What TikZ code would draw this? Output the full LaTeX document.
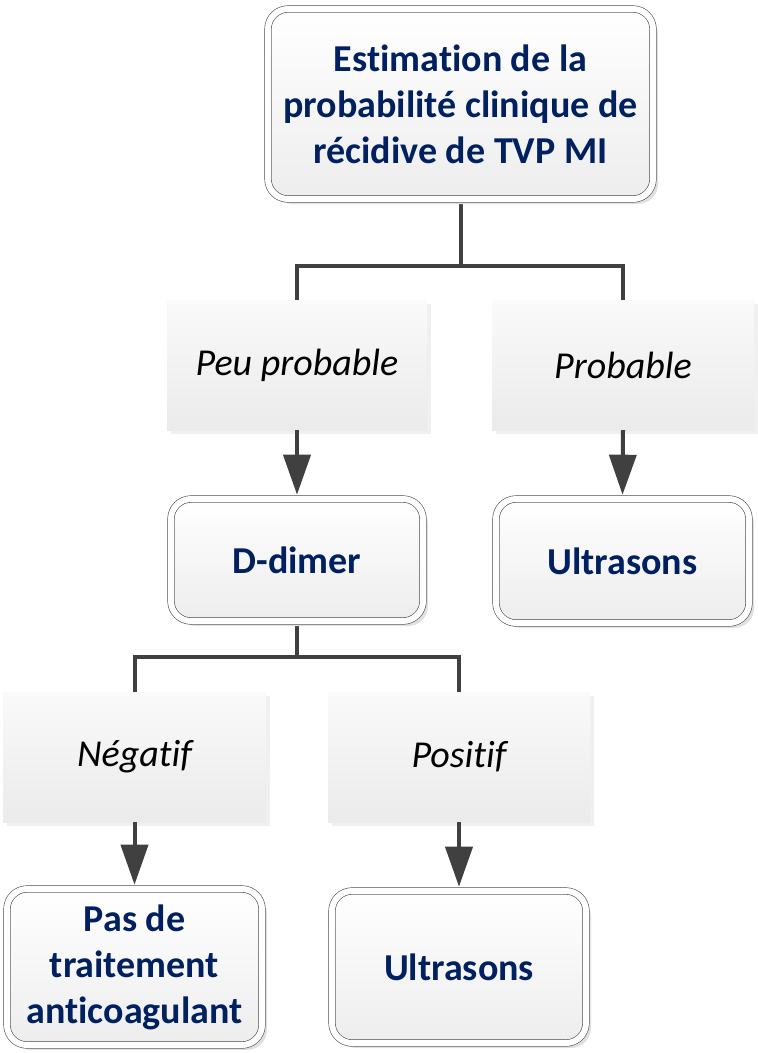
\documentclass[tikz,border=0pt]{standalone}
\usepackage{fontspec}
\setmainfont{Carlito}[Ligatures=NoCommon, RawFeature={-clig}]
\usetikzlibrary{arrows.meta,shadows,backgrounds}
\definecolor{navytext}{RGB}{0,32,96}
\definecolor{conncol}{RGB}{64,64,64}
\tikzset{
  boxnode/.style={rounded corners=20pt, draw=black!70, line width=0.6pt,
    double=white, double distance=6pt, top color=white, bottom color=black!7,
    text=navytext, font=\fontsize{38}{46}\selectfont\bfseries, align=center,
    inner sep=0pt,
    general shadow={fill=black!12, shadow xshift=5pt, shadow yshift=-5pt}},
  labnode/.style={top color=black!2, bottom color=black!8, draw=none,
    text=black, font=\fontsize{38}{46}\selectfont\itshape, align=center,
    inner sep=0pt,
    general shadow={fill=black!6, shadow xshift=4pt, shadow yshift=-4pt}},
  conn/.style={draw=conncol, line width=4pt},
  arrowconn/.style={draw=conncol, line width=4pt, shorten >=4pt,
    -{Triangle[width=27pt,length=40pt]}},
}
\begin{document}
\begin{tikzpicture}[x=1pt,y=-1pt]
\useasboundingbox (0,0) rectangle (758,1053);

\node[boxnode, minimum width=385pt, minimum height=190pt] (top) at (460.5,104)
  {Estimation de la\\probabilité clinique de\\récidive de TVP MI};

\node[labnode, minimum width=260pt, minimum height=130pt] (peu) at (297,365) {Peu probable};
\node[labnode, minimum width=262pt, minimum height=130pt] (prob) at (623,365) {Probable};

\node[boxnode, minimum width=252pt, minimum height=122pt] (dd) at (297,560) {D-dimer};
\node[boxnode, minimum width=253pt, minimum height=124pt] (us1) at (622.5,561) {Ultrasons};

\node[labnode, minimum width=263pt, minimum height=130pt] (neg) at (134.5,757) {Négatif};
\node[labnode, minimum width=262pt, minimum height=130pt] (pos) at (459,757) {Positif};

\node[boxnode, minimum width=255pt, minimum height=156pt] (pas) at (134.5,967)
  {Pas de\\traitement\\anticoagulant};
\node[boxnode, minimum width=254pt, minimum height=152pt] (us2) at (459,967) {Ultrasons};

\coordinate (j1) at (460.5,266);
\coordinate (j2) at (297,657);

\begin{scope}[on background layer]
\draw[conn] (top.south) -- (j1);
\draw[conn] (peu.north) |- (j1) -| (prob.north);
\draw[conn] (dd.south) -- (j2);
\draw[conn] (neg.north) |- (j2) -| (pos.north);
\end{scope}

\draw[arrowconn] (peu.south) -- (dd.north);
\draw[arrowconn] (prob.south) -- (us1.north);
\draw[arrowconn] (neg.south) -- (pas.north);
\draw[arrowconn] (pos.south) -- (us2.north);
\end{tikzpicture}
\end{document}
